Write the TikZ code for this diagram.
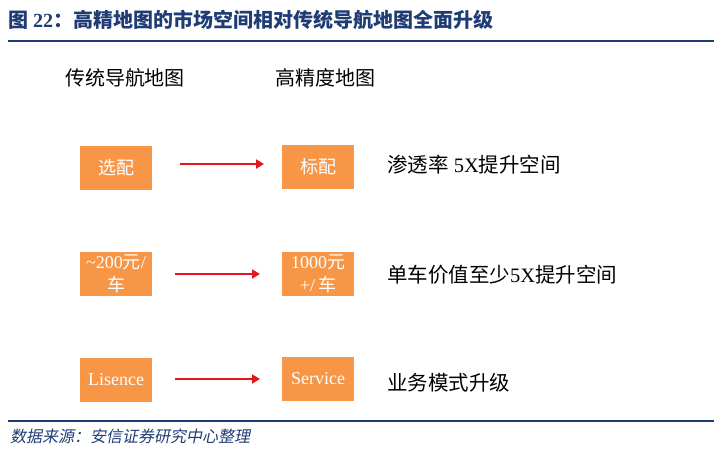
\documentclass[tikz,border=0pt]{standalone}
\usepackage{fontspec}
\setmainfont{Liberation Serif}
\newfontfamily\cjk{Noto Sans CJK SC}
\newfontfamily\cjkit[FakeSlant=0.2]{Noto Sans CJK SC}
\newcommand{\zh}[1]{{\cjk #1}}
\definecolor{titleblue}{HTML}{1F3C74}
\definecolor{boxorange}{HTML}{F79646}
\definecolor{arrowred}{HTML}{E3161B}
\usetikzlibrary{arrows.meta}
\tikzset{
  obox/.style={fill=boxorange, draw=none, minimum width=72pt, minimum height=44pt, text=white, font=\fontsize{18}{23}\selectfont, align=center, inner sep=1pt},
  redarrow/.style={draw=arrowred, line width=2.5pt, -{Triangle[length=8pt,width=9pt]}},
  rtext/.style={anchor=west, font=\fontsize{20.5}{22}\selectfont, inner sep=0pt},
  htext/.style={font=\fontsize{20}{22}\selectfont, inner sep=0pt},
  rule/.style={draw=titleblue, line width=1.2pt}
}
\begin{document}
\begin{tikzpicture}[x=1pt,y=-1pt]
\useasboundingbox (0,0) rectangle (724,456);
\node[anchor=west, text=titleblue, font=\fontsize{20}{22}\selectfont\bfseries, inner sep=0pt] (title) at (8,20) {\zh{图} 22\zh{：高精地图的市场空间相对传统导航地图全面升级}};
\coordinate (tl) at (8,41); \coordinate (tr) at (714,41);
\draw[rule] (tl) -- (tr);
\node[htext] (h1) at (125,78) {\zh{传统导航地图}};
\node[htext] (h2) at (325,78) {\zh{高精度地图}};
% row 1
\node[obox] (a1) at (116,168) {\zh{选配}};
\node[obox] (b1) at (318,167) {\zh{标配}};
\coordinate (s1) at (180,164); \coordinate (e1) at (264,164);
\draw[redarrow] (s1) -- (e1);
\node[rtext] (t1) at (387,165) {\zh{渗透率} 5X\zh{提升空间}};
% row 2
\node[obox] (a2) at (116,273.5) {\textasciitilde200\zh{元}/\\\zh{车}};
\node[obox] (b2) at (318,273.5) {1000\zh{元}\\+/\,\zh{车}};
\coordinate (s2) at (175,274); \coordinate (e2) at (260,274);
\draw[redarrow] (s2) -- (e2);
\node[rtext] (t2) at (387,275) {\zh{单车价值至少}5X\zh{提升空间}};
% row 3
\node[obox] (a3) at (116,379.5) {Lisence};
\node[obox] (b3) at (318,379) {Service};
\coordinate (s3) at (175,379); \coordinate (e3) at (260,379);
\draw[redarrow] (s3) -- (e3);
\node[rtext] (t3) at (387,383) {\zh{业务模式升级}};
% footer
\coordinate (bl) at (8,421); \coordinate (br) at (714,421);
\draw[rule] (bl) -- (br);
\node[anchor=west, text=titleblue, font=\fontsize{16}{18}\selectfont\cjkit, inner sep=0pt] (src) at (10,436) {数据来源：安信证券研究中心整理};
\end{tikzpicture}
\end{document}
